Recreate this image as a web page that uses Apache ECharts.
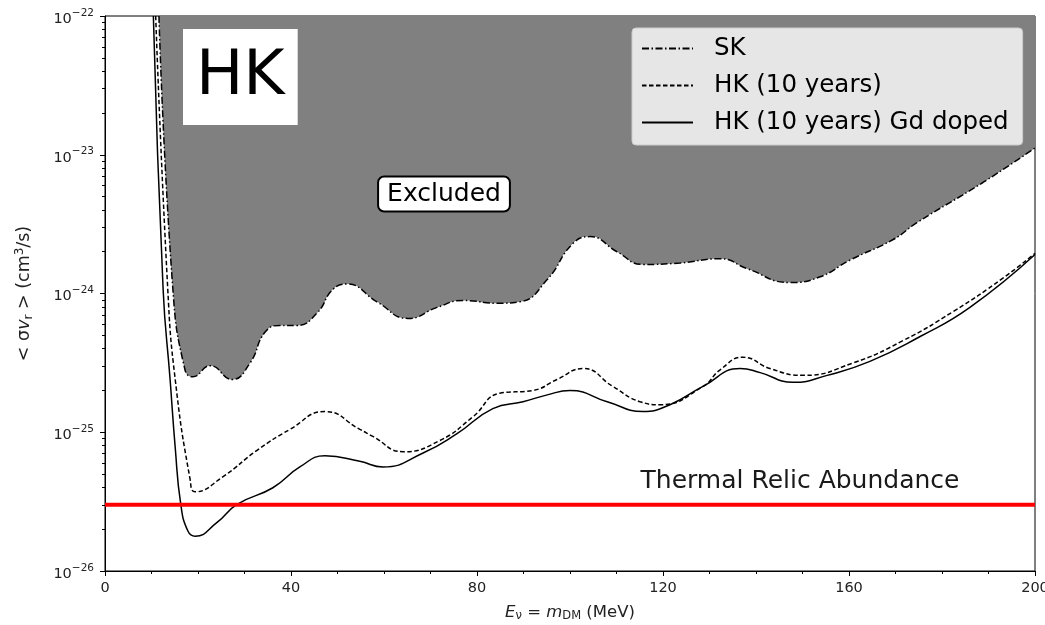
<!DOCTYPE html>
<html>
<head>
<meta charset="utf-8">
<script src="https://cdn.jsdelivr.net/npm/echarts@6/dist/echarts.min.js"></script>
<style>
html,body{margin:0;padding:0;background:#fff;}
#chart{width:1045px;height:625px;}
</style>
</head>
<body>
<div id="chart"></div>
<script>
// ---- data (E in MeV, <σv> in cm^3/s) ----
const energySK = [11.6, 14.6, 17.2, 18.9, 22.6, 27.3, 31.2, 34.4, 37.6, 41.3, 45.6, 49.0, 52.0, 58.5, 65.2, 71.4, 77.0, 84.3, 89.2, 95.1, 100.6, 104.3, 110.1, 115.7, 123.7, 132.3, 138.1, 147.3, 153.8, 160.2, 169.5, 174.6, 188.8, 200];
const sigmaSK  = [1.0e-22, 1.07e-24, 2.82e-25, 2.51e-25, 3.02e-25, 2.40e-25, 3.16e-25, 5.25e-25, 5.89e-25, 5.89e-25, 7.24e-25, 1.07e-24, 1.17e-24, 8.71e-25, 6.61e-25, 7.94e-25, 8.91e-25, 8.51e-25, 8.71e-25, 1.26e-24, 2.29e-24, 2.57e-24, 2.0e-24, 1.62e-24, 1.66e-24, 1.78e-24, 1.51e-24, 1.20e-24, 1.32e-24, 1.74e-24, 2.45e-24, 3.24e-24, 6.31e-24, 1.12e-23];

const energyHK = [10.9, 13.5, 15.1, 18.3, 19.4, 25.4, 32.7, 39.8, 47.3, 54.8, 57.6, 64.1, 72.0, 79.1, 84.9, 92.0, 97.2, 102.8, 109.2, 115.1, 119.4, 128.6, 132.3, 137.2, 143.0, 150.1, 160.9, 171.6, 182.4, 193.1, 200];
const sigmaHK  = [1.0e-22, 1.07e-24, 2.40e-25, 4.57e-26, 3.72e-26, 4.79e-26, 7.41e-26, 1.05e-25, 1.41e-25, 1.05e-25, 9.33e-26, 7.24e-26, 8.71e-26, 1.29e-25, 1.91e-25, 2.0e-25, 2.40e-25, 2.88e-25, 2.14e-25, 1.66e-25, 1.58e-25, 2.14e-25, 2.82e-25, 3.47e-25, 2.88e-25, 2.57e-25, 3.16e-25, 4.57e-25, 7.41e-25, 1.29e-24, 1.95e-24];

const energyGd = [10.4, 12.5, 14.0, 15.1, 16.3, 17.8, 19.4, 24.1, 28.4, 36.1, 41.9, 47.3, 54.8, 59.8, 68.4, 75.7, 83.4, 89.9, 95.1, 100.0, 108.0, 115.7, 121.5, 128.6, 136.6, 140.9, 148.0, 155.3, 164.5, 175.3, 186.0, 200];
const sigmaGd  = [1.0e-22, 1.07e-24, 2.40e-25, 7.76e-26, 3.02e-26, 1.95e-26, 1.78e-26, 2.24e-26, 3.02e-26, 3.98e-26, 5.62e-26, 6.76e-26, 6.17e-26, 5.62e-26, 7.08e-26, 9.77e-26, 1.48e-25, 1.66e-25, 1.86e-25, 2.0e-25, 1.66e-25, 1.41e-25, 1.58e-25, 2.14e-25, 2.88e-25, 2.69e-25, 2.29e-25, 2.57e-25, 3.24e-25, 4.90e-25, 7.94e-25, 1.91e-24];

const thermalRelic = 3.0e-26;
const xRange = [0, 200];
const yRange = [1e-26, 1e-22];
const yMinorTicks = [2e-26,3e-26,4e-26,5e-26,6e-26,7e-26,8e-26,9e-26,
                     2e-25,3e-25,4e-25,5e-25,6e-25,7e-25,8e-25,9e-25,
                     2e-24,3e-24,4e-24,5e-24,6e-24,7e-24,8e-24,9e-24,
                     2e-23,3e-23,4e-23,5e-23,6e-23,7e-23,8e-23,9e-23];
const seriesNames = ['SK', 'HK (10 years)', 'HK (10 years) Gd doped'];

function zip(xs, ys){ return xs.map((x, i) => [x, ys[i]]); }

const FONT = 'DejaVu Sans';
const decadeMin = Math.log10(yRange[0]);
const decadeMax = Math.log10(yRange[1]);
const chart = echarts.init(document.getElementById('chart'), null, {renderer: 'canvas'});

const option = {
  animation: false,
  backgroundColor: '#fff',
  textStyle: {fontFamily: FONT},
  title: {
    text: 'HK',
    left: 183, top: 29,
    padding: [17, 13, 16, 13],
    backgroundColor: '#fff',
    textStyle: {fontFamily: FONT, fontSize: 63, fontWeight: 'normal', color: '#000', lineHeight: 63}
  },
  grid: {left: 105, right: 10, top: 16, bottom: 54, show: true, borderColor: '#000', borderWidth: 1,
         containLabel: false, outerBoundsMode: 'none'},
  legend: {
    data: seriesNames,
    orient: 'vertical',
    left: 632, top: 28,
    padding: [8, 14, 10, 9],
    itemWidth: 51, itemHeight: 14,
    itemGap: 12,
    backgroundColor: 'rgba(255,255,255,0.8)',
    borderColor: '#cccccc', borderWidth: 1, borderRadius: 4,
    itemStyle: {opacity: 0},
    textStyle: {fontFamily: FONT, fontSize: 24.5, color: '#000', padding: [0, 0, 0, 16]}
  },
  xAxis: {
    type: 'value', min: xRange[0], max: xRange[1], interval: 40,
    name: '{i|E}{sub|ν} = {i|m}{sub|DM} (MeV)',
    nameLocation: 'middle', nameGap: 32,
    nameTextStyle: {fontFamily: FONT, fontSize: 16.5, color: '#222',
      rich: {
        i: {fontFamily: FONT, fontStyle: 'italic', fontSize: 16.5, color: '#222'},
        sub: {fontFamily: FONT, fontSize: 11.5, color: '#222', verticalAlign: 'bottom', padding: [7, 0, 0, 0]}
      }},
    axisLine: {lineStyle: {color: '#000', width: 1}},
    axisTick: {inside: false, length: 5, lineStyle: {color: '#000'}},
    minorTick: {show: true, splitNumber: 4, length: 3, lineStyle: {color: '#000'}},
    axisLabel: {fontFamily: FONT, fontSize: 14.5, color: '#222', margin: 10},
    splitLine: {show: false}
  },
  yAxis: [{
    // data axis (log scale)
    type: 'log', logBase: 10, min: yRange[0], max: yRange[1],
    name: '< σ{i|v}{sub|r} > (cm{sup|3}/s)',
    nameLocation: 'middle', nameGap: 70, nameRotate: 90, nameMoveOverlap: false,
    nameTextStyle: {fontFamily: FONT, fontSize: 17.5, color: '#222',
      rich: {
        i: {fontFamily: FONT, fontStyle: 'italic', fontSize: 17.5, color: '#222'},
        sub: {fontFamily: FONT, fontSize: 12, color: '#222', padding: [8, 0, 0, 0]},
        sup: {fontFamily: FONT, fontSize: 12, color: '#222', padding: [0, 0, 9, 0]}
      }},
    axisLine: {show: true, lineStyle: {color: '#000', width: 1}},
    axisTick: {show: false},
    axisLabel: {show: false},
    splitLine: {show: false}
  }, {
    // decade ticks and labels (exponent of the same log scale)
    type: 'value', min: decadeMin, max: decadeMax, interval: 1, position: 'left',
    axisLine: {show: false},
    axisTick: {show: true, inside: false, length: 5, lineStyle: {color: '#000'}},
    axisLabel: {
      margin: 11, color: '#222', showMinLabel: true, showMaxLabel: true,
      formatter: function (e) {
        e = Math.round(e);
        return '{b|10}{s|' + (e < 0 ? '\u2212' + (-e) : e) + '}';
      },
      rich: {
        b: {fontFamily: FONT, fontSize: 14.5, color: '#222', padding: [6, 0, 0, 0]},
        s: {fontFamily: FONT, fontSize: 10.5, color: '#222', padding: [0, 0, 6, 0]}
      }
    },
    splitLine: {show: false}
  }, {
    // minor log ticks
    type: 'value', min: decadeMin, max: decadeMax, position: 'left',
    axisLine: {show: false},
    axisTick: {show: true, inside: false, length: 3, customValues: yMinorTicks.map(Math.log10), lineStyle: {color: '#000'}},
    axisLabel: {show: false},
    splitLine: {show: false}
  }],
  graphic: [
    {type: 'text', x: 444, y: 194, z: 100,
     style: {text: 'Excluded', align: 'center', verticalAlign: 'middle', font: '25px "DejaVu Sans"', fill: '#000',
             backgroundColor: '#fff', borderColor: '#000', borderWidth: 2, borderRadius: 5, padding: [4, 8, 4, 8]}},
    {type: 'text', x: 800, y: 481, z: 100,
     style: {text: 'Thermal Relic Abundance', align: 'center', verticalAlign: 'middle', font: '25px "DejaVu Sans"', fill: '#1a1a1a'}}
  ],
  series: [
    {
      name: seriesNames[0], type: 'line', data: zip(energySK, sigmaSK),
      symbol: 'none', smooth: 0.5, z: 2,
      lineStyle: {color: '#000', width: 1.5, type: [7, 2.5, 1.5, 2.5]},
      itemStyle: {color: '#000'},
      areaStyle: {color: '#808080', opacity: 1, origin: yRange[1]}
    },
    {
      name: seriesNames[1], type: 'line', data: zip(energyHK, sigmaHK),
      symbol: 'none', smooth: 0.5, z: 3,
      lineStyle: {color: '#000', width: 1.5, type: [4.5, 2.5]},
      itemStyle: {color: '#000'}
    },
    {
      name: seriesNames[2], type: 'line', data: zip(energyGd, sigmaGd),
      symbol: 'none', smooth: 0.5, z: 4,
      lineStyle: {color: '#000', width: 1.5, type: 'solid'},
      itemStyle: {color: '#000'}
    },
    {
      name: 'Thermal Relic', type: 'line', data: [[xRange[0], thermalRelic], [xRange[1], thermalRelic]],
      symbol: 'none', z: 5, silent: true,
      lineStyle: {color: '#ff0000', width: 4}
    }
  ]
};
chart.setOption(option);
</script>
</body>
</html>
